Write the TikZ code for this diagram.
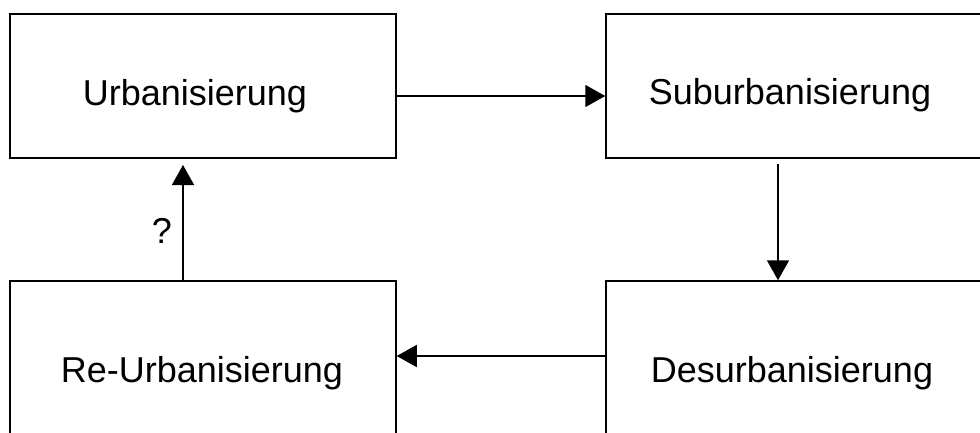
\documentclass[tikz,border=0pt]{standalone}
\usepackage{fontspec}
\setmainfont{Liberation Sans}
\usetikzlibrary{arrows.meta}
\begin{document}
\begin{tikzpicture}[x=1pt,y=-1pt,
  box/.style={draw=black,line width=1.5pt,minimum width=386pt,minimum height=144pt,inner sep=0pt},
  tallbox/.style={box,minimum height=200pt},
  lbl/.style={anchor=base,inner sep=0pt,font=\fontsize{36}{40}\selectfont},
  arr/.style={line width=1.5pt,-{Triangle[length=20pt,width=22pt]}}]
\useasboundingbox (0,0) rectangle (980,432);
\node[box] (ul) at (203,86) {};
\node[box] (ur) at (799,86) {};
\node[tallbox] (dl) at (203,381) {};
\node[tallbox] (dr) at (799,381) {};
\node[lbl] (tul) at (195,105) {Urbanisierung};
\node[lbl] (tur) at (790,104) {Suburbanisierung};
\node[lbl] (tdl) at (202,382) {Re-Urbanisierung};
\node[lbl] (tdr) at (792,382) {Desurbanisierung};
\node[lbl] (q) at (162,243) {?};
\coordinate (downstart) at (778,164);
\coordinate (uptip) at (183,165);
\draw[arr] (ul.east |- 0,96) -- (ur.west |- 0,96);
\draw[arr] (downstart) -- (dr.north -| downstart);
\draw[arr] (dr.west |- 0,356) -- (dl.east |- 0,356);
\draw[arr] (dl.north -| uptip) -- (uptip);
\end{tikzpicture}
\end{document}
